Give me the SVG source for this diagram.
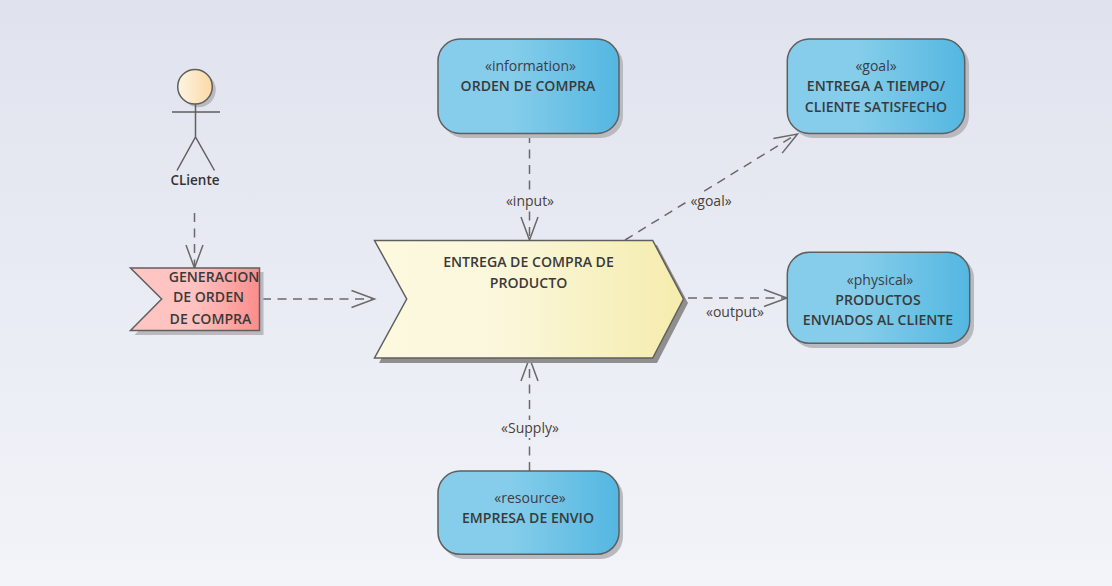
<svg xmlns="http://www.w3.org/2000/svg" width="1112" height="586" viewBox="0 0 1112 586">
<style>
.sh{fill:#b9b9c0}
.sd{fill:#8f8f8f}
.ln{stroke:#5f5f5f;stroke-width:1.5}
.blue{fill:url(#blue);stroke:#5f5f5f;stroke-width:1.5}
.c{fill:none;stroke:#6a6a6a;stroke-width:1.5;stroke-dasharray:9 6.5}
.h{fill:none;stroke:#6a6a6a;stroke-width:1.5}
text{font-family:"Open Sans","Noto Sans","Liberation Sans",sans-serif;text-anchor:middle;font-size:14px;fill:#3c3c46}
.b{font-weight:600;font-size:14.100px;fill:#3a3a3a}
.l{font-size:14px;fill:#4a3f3a}
</style>
<defs>
<linearGradient id="bg" x1="0" y1="0" x2="0" y2="1"><stop offset="0" stop-color="#e0e3ee"/><stop offset="1" stop-color="#f2f4f9"/></linearGradient>
<linearGradient id="blue" x1="0" y1="0" x2="1" y2="0"><stop offset="0" stop-color="#86cdeb"/><stop offset="0.4" stop-color="#85cdea"/><stop offset="1" stop-color="#54b7e1"/></linearGradient>
<linearGradient id="yel" x1="0" y1="0" x2="1" y2="0"><stop offset="0" stop-color="#fdf9de"/><stop offset="0.4" stop-color="#fbf7dc"/><stop offset="1" stop-color="#f5ecad"/></linearGradient>
<linearGradient id="red" x1="0" y1="0" x2="1" y2="0"><stop offset="0" stop-color="#ffc6c4"/><stop offset="0.5" stop-color="#ffc2c0"/><stop offset="1" stop-color="#fb8d8b"/></linearGradient>
<linearGradient id="skin" x1="0" y1="0" x2="1" y2="0"><stop offset="0" stop-color="#fdf4e4"/><stop offset="1" stop-color="#fbd9a4"/></linearGradient>
<path id="ah" d="M-23 -8.500L0 0L-23 8.500" class="h"/>
</defs>
<rect width="1112" height="586" fill="url(#bg)"/>
<g id="connectors">
<path class="c" d="M194.500 213V268"/><use href="#ah" transform="translate(194.500 268) rotate(90)"/>
<path class="c" d="M262 299H374"/><use href="#ah" transform="translate(374.500 299)"/>
<path class="c" d="M529.500 134V240"/><use href="#ah" transform="translate(529.500 240) rotate(90)"/>
<path class="c" d="M625 240L797 134"/><use href="#ah" transform="translate(797.500 134) rotate(-31)"/>
<path class="c" d="M688 298H787"/><use href="#ah" transform="translate(787 298)"/>
<path class="c" d="M529.500 471V359"/><use href="#ah" transform="translate(529.500 358) rotate(-90)"/>
<rect x="505" y="193" width="50" height="18" fill="#e6e9f2"/>
<rect x="688" y="193" width="47" height="18" fill="#e6e9f2"/>
<rect x="500" y="420" width="60" height="18" fill="#eceef5"/>
<text class="l" x="530" y="206">«input»</text>
<text class="l" x="711" y="206">«goal»</text>
<text class="l" x="735" y="317">«output»</text>
<text class="l" x="530" y="433">«Supply»</text>
</g>
<g id="actor">
<circle class="sh" cx="198.500" cy="90" r="17.300"/>
<circle cx="195" cy="86.700" r="17.300" fill="url(#skin)" class="ln"/>
<path class="ln" fill="none" d="M172 112H220M195.500 104V137M177 170.500L195.500 137L214.500 170.500"/>
<text x="195" y="185" class="b" style="font-size:13.500px;fill:#333">CLiente</text>
</g>
<g id="flag">
<path class="sh" d="M134.500 272H263.500V335H134.500L165.700 303Z"/>
<path d="M130.500 268H259.500V330.500H130.500L161.700 299Z" fill="url(#red)" class="ln"/>
<text class="b" x="214" y="282">GENERACION</text>
<text class="b" x="208.500" y="302">DE ORDEN</text>
<text class="b" x="210.500" y="324">DE COMPRA</text>
</g>
<g id="process">
<path class="sd" d="M379 245H657L688 303L657 363H379L411 303Z"/>
<path d="M374.500 240.500H652.700L683.500 299L652.700 358H374.500L406.700 299Z" fill="url(#yel)" class="ln"/>
<text class="b" x="528.500" y="267">ENTREGA DE COMPRA DE</text>
<text class="b" x="528.500" y="288">PRODUCTO</text>
</g>
<g id="orden">
<rect class="sh" x="442" y="43" width="181" height="95" rx="22"/>
<rect class="blue" x="438" y="39" width="181" height="94.500" rx="22"/>
<text x="530.500" y="71">«information»</text>
<text class="b" x="528" y="91">ORDEN DE COMPRA</text>
</g>
<g id="goal">
<rect class="sh" x="791" y="43" width="178" height="95" rx="22"/>
<rect class="blue" x="787.300" y="39" width="177.400" height="94.500" rx="22"/>
<text x="876" y="71">«goal»</text>
<text class="b" x="876" y="91">ENTREGA A TIEMPO/</text>
<text class="b" x="876" y="112">CLIENTE SATISFECHO</text>
</g>
<g id="physical">
<rect class="sh" x="791" y="256" width="183" height="92" rx="22"/>
<rect class="blue" x="787.300" y="252.300" width="182.400" height="91" rx="22"/>
<text x="880" y="285">«physical»</text>
<text class="b" x="878" y="305">PRODUCTOS</text>
<text class="b" x="878" y="325">ENVIADOS AL CLIENTE</text>
</g>
<g id="resource">
<rect class="sh" x="442" y="475" width="181" height="84" rx="22"/>
<rect class="blue" x="438" y="471" width="181" height="83.300" rx="22"/>
<text x="530" y="503">«resource»</text>
<text class="b" x="528" y="523">EMPRESA DE ENVIO</text>
</g>
</svg>
